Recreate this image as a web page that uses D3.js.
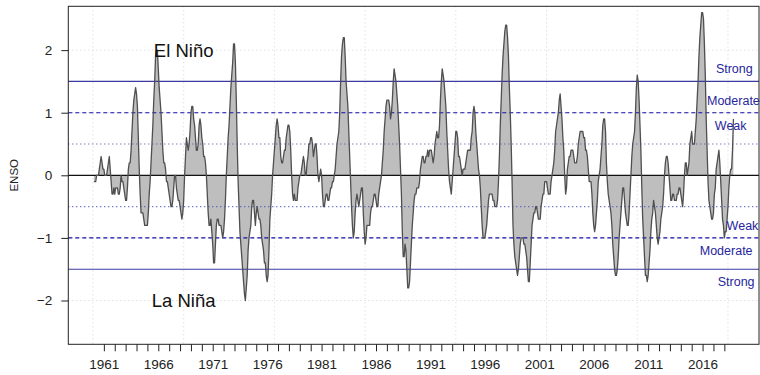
<!DOCTYPE html>
<html><head><meta charset="utf-8">
<script src="https://cdn.jsdelivr.net/npm/d3@7"></script>
<style>
body{margin:0;background:#fff}
svg{display:block}
text{font-family:"Liberation Sans",Arial,Helvetica,sans-serif}
</style>
</head><body>
<svg id="chart" width="760" height="375"></svg>
<script>
// ---- DATA (monthly ENSO index, Jan 1960 onward) ----
const startYear = 1960;
const oni = [
  -0.1,-0.1,-0.1,0.0,0.0,0.0,0.1,0.2,0.3,0.2,0.1,0.1,        // 1960
  0.0,0.0,0.0,0.1,0.2,0.3,0.1,-0.1,-0.3,-0.3,-0.2,-0.3,       // 1961
  -0.2,-0.2,-0.2,-0.3,-0.3,-0.2,0.0,-0.1,-0.1,-0.2,-0.3,-0.4, // 1962
  -0.4,-0.2,0.1,0.2,0.2,0.4,0.7,1.0,1.2,1.3,1.4,1.3,          // 1963
  1.1,0.6,0.1,-0.3,-0.6,-0.6,-0.6,-0.7,-0.8,-0.8,-0.8,-0.8,   // 1964
  -0.6,-0.3,-0.1,0.2,0.5,0.8,1.2,1.5,1.9,2.0,2.0,1.7,         // 1965
  1.4,1.2,1.0,0.7,0.4,0.2,0.2,0.1,-0.1,-0.1,-0.2,-0.3,        // 1966
  -0.4,-0.5,-0.5,-0.4,-0.2,0.0,0.0,-0.2,-0.3,-0.4,-0.4,-0.5,  // 1967
  -0.6,-0.7,-0.6,-0.4,0.0,0.3,0.6,0.5,0.4,0.5,0.7,1.0,        // 1968
  1.1,1.1,0.9,0.8,0.6,0.4,0.4,0.5,0.8,0.9,0.8,0.6,            // 1969
  0.5,0.3,0.3,0.2,0.0,-0.3,-0.6,-0.8,-0.8,-0.7,-0.9,-1.1,     // 1970
  -1.4,-1.4,-1.1,-0.8,-0.7,-0.7,-0.8,-0.8,-0.8,-0.9,-1.0,-0.9,// 1971
  -0.7,-0.4,0.0,0.3,0.6,0.8,1.1,1.4,1.6,1.8,2.1,2.1,          // 1972
  1.8,1.2,0.5,-0.1,-0.5,-0.9,-1.1,-1.3,-1.5,-1.7,-1.9,-2.0,   // 1973
  -1.8,-1.6,-1.2,-1.0,-0.9,-0.8,-0.5,-0.4,-0.4,-0.6,-0.8,-0.6,// 1974
  -0.5,-0.6,-0.7,-0.7,-0.8,-1.0,-1.1,-1.2,-1.4,-1.4,-1.6,-1.7,// 1975
  -1.6,-1.2,-0.7,-0.5,-0.3,0.0,0.2,0.4,0.6,0.8,0.9,0.8,       // 1976
  0.6,0.6,0.3,0.2,0.2,0.3,0.4,0.4,0.6,0.7,0.8,0.8,            // 1977
  0.7,0.4,0.0,-0.3,-0.4,-0.3,-0.4,-0.4,-0.4,-0.2,-0.1,0.0,    // 1978
  0.0,0.1,0.2,0.3,0.2,0.0,0.0,0.2,0.3,0.5,0.5,0.6,            // 1979
  0.6,0.5,0.3,0.4,0.5,0.5,0.3,0.0,-0.1,0.0,0.1,0.0,           // 1980
  -0.3,-0.5,-0.5,-0.4,-0.3,-0.3,-0.4,-0.4,-0.3,-0.2,-0.2,-0.1,// 1981
  -0.1,0.0,0.1,0.3,0.5,0.6,0.7,1.0,1.5,1.9,2.1,2.2,           // 1982
  2.2,1.9,1.5,1.3,1.1,0.7,0.3,-0.1,-0.5,-0.8,-1.0,-0.9,       // 1983
  -0.6,-0.4,-0.3,-0.4,-0.5,-0.4,-0.3,-0.2,-0.2,-0.6,-0.9,-1.1,// 1984
  -1.0,-0.8,-0.8,-0.8,-0.8,-0.6,-0.5,-0.5,-0.4,-0.3,-0.3,-0.4,// 1985
  -0.5,-0.5,-0.3,-0.2,-0.1,0.0,0.2,0.4,0.7,0.9,1.1,1.2,       // 1986
  1.2,1.2,1.1,0.9,1.0,1.2,1.5,1.7,1.6,1.5,1.3,1.1,            // 1987
  0.8,0.5,0.1,-0.3,-0.9,-1.3,-1.3,-1.1,-1.2,-1.5,-1.8,-1.8,   // 1988
  -1.7,-1.4,-1.1,-0.8,-0.6,-0.4,-0.3,-0.3,-0.2,-0.2,-0.2,-0.1,// 1989
  0.1,0.2,0.3,0.3,0.2,0.2,0.3,0.3,0.4,0.3,0.4,0.4,            // 1990
  0.4,0.3,0.2,0.3,0.5,0.6,0.7,0.6,0.6,0.8,1.2,1.5,            // 1991
  1.7,1.6,1.5,1.3,1.1,0.7,0.4,0.1,-0.1,-0.2,-0.3,-0.1,        // 1992
  0.1,0.3,0.5,0.7,0.7,0.6,0.3,0.3,0.2,0.1,0.0,0.1,            // 1993
  0.1,0.1,0.2,0.3,0.4,0.4,0.4,0.4,0.6,0.7,1.0,1.1,            // 1994
  1.0,0.7,0.5,0.3,0.1,0.0,-0.2,-0.5,-0.8,-1.0,-1.0,-1.0,      // 1995
  -0.9,-0.8,-0.6,-0.4,-0.3,-0.3,-0.3,-0.3,-0.4,-0.4,-0.5,-0.5,// 1996
  -0.5,-0.4,-0.1,0.3,0.8,1.2,1.6,1.9,2.1,2.3,2.4,2.4,         // 1997
  2.2,1.9,1.4,1.0,0.5,-0.1,-0.8,-1.1,-1.3,-1.4,-1.5,-1.6,     // 1998
  -1.5,-1.3,-1.1,-1.0,-1.0,-1.0,-1.1,-1.1,-1.2,-1.3,-1.5,-1.7,// 1999
  -1.7,-1.4,-1.1,-0.8,-0.7,-0.6,-0.6,-0.5,-0.5,-0.6,-0.7,-0.7,// 2000
  -0.7,-0.5,-0.4,-0.3,-0.3,-0.1,-0.1,-0.1,-0.2,-0.3,-0.3,-0.3,// 2001
  -0.1,0.0,0.1,0.2,0.4,0.7,0.8,0.9,1.0,1.2,1.3,1.1,           // 2002
  0.9,0.6,0.4,0.0,-0.3,-0.2,0.1,0.2,0.3,0.3,0.4,0.4,          // 2003
  0.4,0.3,0.2,0.2,0.2,0.3,0.5,0.6,0.7,0.7,0.7,0.7,            // 2004
  0.6,0.6,0.4,0.4,0.3,0.1,-0.1,-0.1,-0.1,-0.3,-0.6,-0.8,      // 2005
  -0.9,-0.8,-0.6,-0.4,-0.1,0.0,0.1,0.3,0.5,0.8,0.9,0.9,       // 2006
  0.7,0.2,-0.1,-0.3,-0.4,-0.5,-0.6,-0.8,-1.1,-1.3,-1.5,-1.6,  // 2007
  -1.6,-1.5,-1.3,-1.0,-0.8,-0.6,-0.4,-0.2,-0.2,-0.4,-0.6,-0.7,// 2008
  -0.8,-0.8,-0.6,-0.3,0.0,0.3,0.5,0.6,0.7,1.0,1.4,1.6,        // 2009
  1.5,1.2,0.8,0.4,-0.2,-0.7,-1.0,-1.3,-1.6,-1.6,-1.7,-1.6,    // 2010
  -1.4,-1.2,-0.9,-0.7,-0.6,-0.4,-0.5,-0.6,-0.8,-1.0,-1.1,-1.0,// 2011
  -0.9,-0.7,-0.6,-0.5,-0.3,0.0,0.2,0.3,0.3,0.2,0.0,-0.2,      // 2012
  -0.4,-0.4,-0.3,-0.3,-0.4,-0.4,-0.4,-0.3,-0.3,-0.2,-0.2,-0.3,// 2013
  -0.4,-0.5,-0.3,0.0,0.2,0.2,0.0,0.1,0.2,0.5,0.6,0.7,         // 2014
  0.5,0.5,0.5,0.7,0.9,1.2,1.5,1.9,2.2,2.4,2.6,2.6,            // 2015
  2.5,2.1,1.6,0.9,0.4,-0.1,-0.4,-0.5,-0.6,-0.7,-0.7,-0.6,     // 2016
  -0.3,-0.2,0.1,0.2,0.3,0.4,0.2,-0.1,-0.4,-0.7,-0.8,-1.0,     // 2017
  -0.9,-0.9,-0.7,-0.5,-0.2,0.0,0.1,0.1,0.4,0.9                // 2018
];
const tickYears = d3.range(1961, 2019);          // a tick each January
const labelYears = d3.range(1961, 2017, 5);      // labelled every 5 years
const yTicks = [-2, -1, 0, 1, 2];
const gridX = [0, 100, 200, 300, 400, 500, 600, 700];
const levelValues = [1.5, 1.0, 0.5];
const levelNames = ["Strong", "Moderate", "Weak"];
const phaseNames = ["El Niño", "La Niña"];
const yAxisTitle = "ENSO";

// ---- LAYOUT ----
const W = 760, H = 375;
const box = {left: 68.3, right: 759, top: 6.3, bottom: 344.3};
const N = oni.length;
const pad = (N - 1) * 0.04;

const x = d3.scaleLinear().domain([1 - pad, N + pad]).range([box.left, box.right]);
const y = d3.scaleLinear().domain([-2.7, 2.7]).range([box.bottom, box.top]);
const monthIndex = yr => (yr - startYear) * 12; // tick index for January of yr

const svg = d3.select("#chart");
svg.append("rect").attr("width", W).attr("height", H).attr("fill", "#fff");

// grid
const g = svg.append("g");
g.selectAll("line.gx").data(gridX).join("line")
  .attr("x1", d => x(d)).attr("x2", d => x(d))
  .attr("y1", box.top).attr("y2", box.bottom)
  .attr("stroke", "#d3d3d3").attr("stroke-width", 1).attr("stroke-dasharray", "1,3");
g.selectAll("line.gy").data(yTicks).join("line")
  .attr("x1", box.left).attr("x2", box.right)
  .attr("y1", d => y(d)).attr("y2", d => y(d))
  .attr("stroke", "#d3d3d3").attr("stroke-width", 1).attr("stroke-dasharray", "1,3");

// area + line
const pts = oni.map((v, i) => [i + 1, v]);
svg.append("path").datum(pts)
  .attr("d", d3.area().x(d => x(d[0])).y0(y(0)).y1(d => y(d[1])))
  .attr("fill", "#bebebe");

// reference lines
const refStyle = [
  {stroke: "#3a3aa0", dash: null, w: 1.1},
  {stroke: "#1010a8", dash: "4,3", w: 1.1},
  {stroke: "#4848c0", dash: "1,3", w: 1.1}
];
levelValues.forEach((lv, k) => {
  [lv, -lv].forEach(v => {
    svg.append("line")
      .attr("x1", box.left).attr("x2", box.right)
      .attr("y1", y(v)).attr("y2", y(v))
      .attr("stroke", refStyle[k].stroke).attr("stroke-width", refStyle[k].w)
      .attr("stroke-dasharray", refStyle[k].dash);
  });
});
svg.append("line").attr("x1", box.left).attr("x2", box.right)
  .attr("y1", y(0)).attr("y2", y(0)).attr("stroke", "#111").attr("stroke-width", 1.3);

svg.append("path").datum(pts)
  .attr("d", d3.line().x(d => x(d[0])).y(d => y(d[1])))
  .attr("fill", "none").attr("stroke", "#4f4f4f").attr("stroke-width", 1.3)
  .attr("stroke-linejoin", "round");

// box
svg.append("rect").attr("x", box.left).attr("y", box.top)
  .attr("width", box.right - box.left).attr("height", box.bottom - box.top)
  .attr("fill", "none").attr("stroke", "#222").attr("stroke-width", 1);

// y axis
const yAxis = d3.axisLeft(y).tickValues(yTicks).tickSize(7).tickPadding(9)
  .tickFormat(d => d < 0 ? "\u2212" + Math.abs(d) : String(d));
const ya = svg.append("g").attr("transform", `translate(${box.left},0)`).call(yAxis);
ya.select(".domain").remove();
ya.selectAll("line").attr("stroke", "#222");
ya.selectAll("text").attr("font-size", 13.5).attr("fill", "#222")
  .attr("font-family", '"Liberation Sans",Arial,sans-serif');

// x axis
const xAxis = d3.axisBottom(x).tickValues(tickYears.map(monthIndex)).tickSize(7).tickPadding(8)
  .tickFormat(d => { const yr = startYear + d / 12; return labelYears.includes(yr) ? String(yr) : ""; });
const xa = svg.append("g").attr("transform", `translate(0,${box.bottom})`).call(xAxis);
xa.select(".domain").remove();
xa.selectAll("line").attr("stroke", "#222");
xa.selectAll("text").attr("font-size", 13.5).attr("fill", "#222")
  .attr("font-family", '"Liberation Sans",Arial,sans-serif');

// y title
svg.append("text").attr("transform", `translate(18,${(box.top + box.bottom) / 2}) rotate(-90)`)
  .attr("text-anchor", "middle").attr("font-size", 11.5).attr("fill", "#222").text(yAxisTitle);

// phase labels
svg.append("text").attr("x", x(100)).attr("y", y(2)).attr("dy", "0.36em")
  .attr("text-anchor", "middle").attr("font-size", 18.5).attr("fill", "#111").text(phaseNames[0]);
svg.append("text").attr("x", x(100)).attr("y", y(-2)).attr("dy", "0.36em")
  .attr("text-anchor", "middle").attr("font-size", 18.5).attr("fill", "#111").text(phaseNames[1]);

// strength labels
const upperPos = [{xi: 707, v: 1.7}, {xi: 706, v: 1.2}, {xi: 703, v: 0.8}];
const lowerPos = [{xi: 709, v: -1.7}, {xi: 698, v: -1.2}, {xi: 716, v: -0.8}];
levelNames.forEach((name, k) => {
  [upperPos[k], lowerPos[k]].forEach(p => {
    svg.append("text").attr("x", x(p.xi)).attr("y", y(p.v)).attr("dy", "0.36em")
      .attr("text-anchor", "middle").attr("font-size", 12.5).attr("fill", "#26269c").text(name);
  });
});
</script>
</body></html>
